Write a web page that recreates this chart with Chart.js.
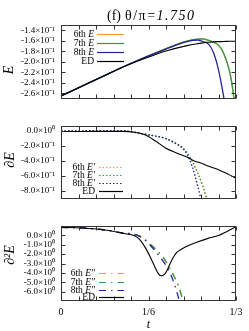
<!DOCTYPE html>
<html><head><meta charset="utf-8">
<script src="https://cdn.jsdelivr.net/npm/chart.js@4.4.0/dist/chart.umd.min.js"></script>
<style>
html,body{margin:0;padding:0;background:#fff;width:249px;height:331px;overflow:hidden}
canvas{position:absolute;left:0}
</style></head><body>
<canvas id="c1" width="249" height="110" style="top:0px"></canvas>
<canvas id="c2" width="249" height="100" style="top:110px"></canvas>
<canvas id="c3" width="249" height="121" style="top:210px"></canvas>
<script>
// ---------- data ----------
const legendNames = ['6th', '7th', '8th', 'ED'];

// top panel: E
const tTop  = [0, 0.04, 0.08, 0.12, 0.16, 0.2, 0.24, 0.26, 0.27, 0.28, 0.29, 0.3, 0.31, 0.32, 0.325, 0.33, 0.3333];
const edTop = [-0.2650, -0.2463, -0.2276, -0.2090, -0.1935, -0.1795, -0.1692, -0.1655, -0.1640, -0.1627, -0.1621, -0.1617, -0.1614, -0.1610, -0.1609, -0.1608, -0.1608];
const e8Top = [-0.2650, -0.2463, -0.2276, -0.2090, -0.1916, -0.1757, -0.1617, -0.1589, -0.1614, -0.1655, -0.1815, -0.2153, -0.2672, -0.3300, null, null, null];
const e7Top = [-0.2650, -0.2463, -0.2276, -0.2090, -0.1916, -0.1748, -0.1608, -0.1571, -0.1565, -0.1589, -0.1627, -0.1683, -0.1841, -0.2140, -0.2383, -0.2737, -0.2980];
const e6Top = [-0.2650, -0.2463, -0.2276, -0.2090, -0.1916, -0.1748, -0.1608, -0.1571, -0.1565, -0.1589, -0.1627, -0.1683, -0.1841, -0.2140, -0.2383, -0.2737, -0.2980];

// middle panel: dE
const tMid  = [0, 0.04, 0.08, 0.12, 0.14, 0.16, 0.18, 0.2, 0.22, 0.23, 0.24, 0.25, 0.26, 0.27, 0.28, 0.3, 0.32, 0.3333];
const edMid = [-0.013, -0.012, -0.011, -0.011, -0.023, -0.055, -0.138, -0.234, -0.296, -0.324, -0.350, -0.388, -0.417, -0.438, -0.469, -0.517, -0.583, -0.631];
const e8Mid = [-0.004, -0.004, -0.004, -0.004, -0.023, -0.049, -0.074, -0.106, -0.177, -0.222, -0.315, -0.478, -0.721, -1.015, null, null, null, null];
const e7Mid = [-0.004, -0.004, -0.004, -0.004, -0.023, -0.049, -0.074, -0.106, -0.177, -0.220, -0.292, -0.407, -0.554, -0.734, -0.951, -1.300, null, null];
const e6Mid = [-0.004, -0.004, -0.004, -0.004, -0.023, -0.049, -0.074, -0.106, -0.177, -0.220, -0.292, -0.407, -0.554, -0.734, -0.951, -1.300, null, null];

// bottom panel: d2E
const tBot  = [0, 0.04, 0.08, 0.12, 0.14, 0.15, 0.16, 0.17, 0.18, 0.185, 0.19, 0.195, 0.2, 0.21, 0.22, 0.225, 0.23, 0.235, 0.24, 0.26, 0.28, 0.3, 0.3333];
const edBot = [0.86, 0.79, 0.6, 0.2, -0.05, -0.45, -1.25, -2.3, -3.5, -4.05, -4.3, -4.25, -3.95, -2.75, -1.85, -1.63, -1.45, -1.29, -1.15, -0.7, -0.32, -0.02, 0.93];
const e8Bot = [0.86, 0.79, 0.6, 0.25, 0.1, -0.1, -0.5, -1.05, -1.7, -2.05, -2.4, -2.8, -3.2, -4.3, -5.9, -6.9, -8.0, null, null, null, null, null, null];
const e7Bot = [0.86, 0.79, 0.6, 0.25, 0.1, -0.1, -0.45, -0.95, -1.45, -1.75, -2.05, -2.4, -2.8, -3.8, -4.9, -5.6, -6.5, -7.5, null, null, null, null, null];
const e6Bot = [0.86, 0.79, 0.6, 0.25, 0.1, -0.1, -0.45, -0.95, -1.45, -1.75, -2.05, -2.4, -2.8, -3.8, -4.9, -5.6, -6.5, -7.5, null, null, null, null, null];

// ticks
const yTicksTop = [-0.26, -0.24, -0.22, -0.20, -0.18, -0.16, -0.14];
const yTicksMid = [-0.8, -0.6, -0.4, -0.2, 0];
const yTicksBot = [-6, -5, -4, -3, -2, -1, 0];
const xTicks = [0, 1/6, 1/3];
const xTickLabels = ['0', '1/6', '1/3'];

// ---------- style ----------
const SERIF = "'Liberation Serif','Times New Roman',serif";
const COLORS = ['#f0a030', '#2e9a4e', '#22229a', '#000000'];
const SUP = {'-':'⁻','0':'⁰','1':'¹','2':'²','3':'³','4':'⁴','5':'⁵','6':'⁶','7':'⁷','8':'⁸','9':'⁹'};
function sci(v){
  if (Math.abs(v) < 1e-12) return '0.0×10⁰';
  const e = Math.floor(Math.log10(Math.abs(v)) + 1e-9);
  const m = v / Math.pow(10, e);
  return m.toFixed(1) + '×10' + String(e).split('').map(c => SUP[c]).join('');
}

const decoPlugin = {
  id: 'deco',
  afterDatasetsDraw(chart, args, o) {
    const {ctx, chartArea: a, scales: {x, y}} = chart;
    ctx.save();
    // frame
    ctx.strokeStyle = '#333'; ctx.lineWidth = 1; ctx.setLineDash([]);
    const L = Math.round(a.left) + 0.5, R = Math.round(a.right) - 0.5;
    const T = Math.round(a.top) + 0.5, B = Math.round(a.bottom) - 0.5;
    ctx.strokeRect(L, T, R - L, B - T);
    ctx.beginPath();
    for (let k = 0; k <= 10; k++) {
      const px = Math.round(x.getPixelForValue(k / 30)) + 0.5;
      ctx.moveTo(px, B); ctx.lineTo(px, B - 4);
      ctx.moveTo(px, T); ctx.lineTo(px, T + 4);
    }
    y.ticks.forEach(t => {
      const py = Math.round(y.getPixelForValue(t.value)) + 0.5;
      ctx.moveTo(L, py); ctx.lineTo(L + 4, py);
      ctx.moveTo(R, py); ctx.lineTo(R - 4, py);
    });
    ctx.stroke();
    // legend
    const fs = 9.5;
    o.legendY.forEach((ly, i) => {
      const name = legendNames[i];
      const suf = i < 3 ? o.suffix : '';
      ctx.fillStyle = '#000'; ctx.textBaseline = 'middle'; ctx.textAlign = 'left';
      ctx.font = fs + 'px ' + SERIF;
      const w1 = ctx.measureText(name + (suf ? ' ' : '')).width;
      ctx.font = 'italic ' + fs + 'px ' + SERIF;
      const w2 = suf ? ctx.measureText(suf).width : 0;
      const x0 = o.legendTextRight - w1 - w2;
      ctx.font = fs + 'px ' + SERIF;
      ctx.fillText(name + (suf ? ' ' : ''), x0, ly);
      if (suf) { ctx.font = 'italic ' + fs + 'px ' + SERIF; ctx.fillText(suf, x0 + w1, ly); }
      ctx.strokeStyle = COLORS[i]; ctx.lineWidth = 1.2;
      ctx.setLineDash(i === 3 ? [] : o.dash);
      ctx.beginPath(); ctx.moveTo(o.legendLine[0], ly + 0.5); ctx.lineTo(o.legendLine[1], ly + 0.5); ctx.stroke();
    });
    ctx.setLineDash([]);
    // y title
    ctx.save();
    ctx.translate(o.yTitlePos[0], o.yTitlePos[1]);
    ctx.rotate(-Math.PI / 2);
    ctx.textAlign = 'center'; ctx.textBaseline = 'middle'; ctx.fillStyle = '#000';
    ctx.font = 'italic 14px ' + SERIF;
    ctx.fillText(o.yTitle, 0, 0);
    ctx.restore();
    // main title
    if (o.title) {
      ctx.fillStyle = '#000'; ctx.textBaseline = 'middle'; ctx.textAlign = 'left';
      ctx.font = '14px ' + SERIF;
      ctx.fillText('(f)', 107, 16);
      try { ctx.letterSpacing = '1.5px'; } catch (e) {}
      ctx.fillText('θ/π=', 125, 16);
      const w = ctx.measureText('θ/π=').width;
      ctx.font = 'italic 14px ' + SERIF;
      ctx.fillText('1.750', 125 + w, 16);
      try { ctx.letterSpacing = '0px'; } catch (e) {}
    }
    ctx.restore();
  }
};

function build(id, t, series, dash, yMin, yMax, yTicks, pad, showX, deco) {
  const datasets = series.map((s, i) => ({
    label: legendNames[i],
    data: t.map((xv, j) => ({x: xv, y: s[j]})),
    borderColor: COLORS[i],
    borderWidth: i === 3 ? 1.1 : 1.3,
    borderDash: i === 3 ? [] : dash,
    pointRadius: 0, fill: false, cubicInterpolationMode: 'monotone',
    order: 3 - i, spanGaps: false
  }));
  return new Chart(document.getElementById(id), {
    type: 'line',
    data: {datasets},
    options: {
      responsive: false, animation: false, devicePixelRatio: 1,
      layout: {padding: {top: pad[0], bottom: pad[1], left: 0, right: 13}},
      plugins: {legend: {display: false}, tooltip: {enabled: false}, deco},
      scales: {
        x: {
          type: 'linear', min: 0, max: 1/3, display: showX,
          grid: {display: false, drawTicks: false}, border: {display: false},
          afterBuildTicks: s => { s.ticks = xTicks.map(v => ({value: v})); },
          afterFit: s => { s.height = showX ? 30 : 0; },
          ticks: {autoSkip: false, maxRotation: 0, padding: 5, color: '#000',
                  font: {family: SERIF, size: 10}, callback: (v, i) => xTickLabels[i]},
          title: {display: true, text: 't', color: '#000',
                  font: {family: SERIF, size: 12, style: 'italic', lineHeight: 1},
                  padding: {top: 0, bottom: 0}}
        },
        y: {
          type: 'linear', min: yMin, max: yMax,
          grid: {display: false, drawTicks: false}, border: {display: false},
          afterBuildTicks: s => { s.ticks = yTicks.map(v => ({value: v})); },
          afterFit: s => { s.width = 61; },
          ticks: {autoSkip: false, padding: 6, color: '#000', font: {family: SERIF, size: 9}, callback: v => sci(v)}
        }
      }
    },
    plugins: [decoPlugin]
  });
}

build('c1', tTop, [e6Top, e7Top, e8Top, edTop], [], -0.27, -0.13, yTicksTop, [25, 10], false,
  {legendY: [34, 43, 52, 61], suffix: 'E', legendTextRight: 94, legendLine: [97, 124], dash: [],
   yTitle: 'E', yTitlePos: [9, 70], title: true});
build('c2', tMid, [e6Mid, e7Mid, e8Mid, edMid], [1.5, 2], -0.9, 0.06, yTicksMid, [16, 10], false,
  {legendY: [57, 65, 73, 81], suffix: 'E′', legendTextRight: 95, legendLine: [99, 123], dash: [1.5, 2],
   yTitle: '∂E', yTitlePos: [10, 50], title: false});
build('c3', tBot, [e6Bot, e7Bot, e8Bot, edBot], [7, 5, 1.5, 5], -7, 1, yTicksBot, [16, 0], true,
  {legendY: [63, 72, 80, 87], suffix: 'E″', legendTextRight: 95, legendLine: [99, 124], dash: [7, 5, 1.5, 5],
   yTitle: '∂²E', yTitlePos: [10, 45], title: false});
</script>
</body></html>
